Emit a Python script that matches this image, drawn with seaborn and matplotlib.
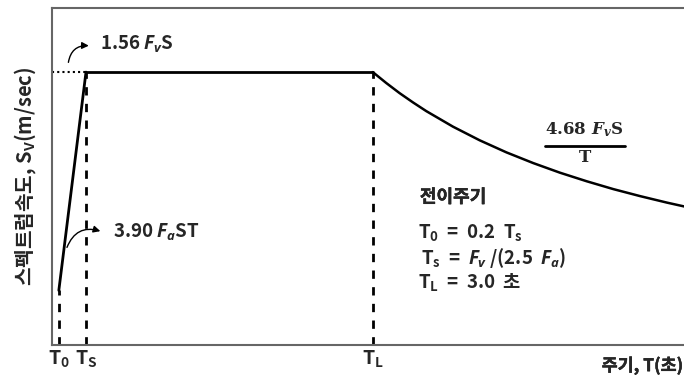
import numpy as np
import matplotlib
matplotlib.use("Agg")
import matplotlib.pyplot as plt
import matplotlib.patheffects as pe
import seaborn as sns

# 설계응답스펙트럼 (FvS = 1 기준, 단위 없음)
T0 = 0.064   # 0.2 Ts
Ts = 0.318
TL = 3.0
plateau = 1.56

# 가속도 구간 (직선), 일정 구간, 감소 구간 값
T_rise = [T0, Ts]
Sv_rise = [0.312, 1.56]
T_flat = [Ts, TL]
Sv_flat = [1.56, 1.56]
T_decay = [3.0, 3.125, 3.25, 3.375, 3.5, 3.75, 4.0, 4.25, 4.5, 4.75, 5.0, 5.25, 5.5, 5.75, 6.0]
Sv_decay = [1.56, 1.498, 1.44, 1.387, 1.337, 1.248, 1.17, 1.101, 1.04, 0.985, 0.936, 0.891, 0.851, 0.814, 0.78]

tick_pos = [T0, Ts, TL]
tick_lab = [r"$\mathrm{T_0}$", r"$\mathrm{T_S}$", r"$\mathrm{T_L}$"]

sns.set_style("white")
plt.rcParams['font.family'] = ['Noto Sans CJK KR', 'DejaVu Sans']
plt.rcParams['font.weight'] = 'bold'
plt.rcParams['mathtext.fontset'] = 'custom'
plt.rcParams['mathtext.rm'] = 'Noto Sans CJK KR:bold'
plt.rcParams['mathtext.bf'] = 'Noto Sans CJK KR:bold'
plt.rcParams['mathtext.it'] = 'Open Sans:italic:bold'

# 한글을 조금 더 굵게
thick = [pe.withStroke(linewidth=0.3, foreground='black')]

fig = plt.figure(figsize=(6.84, 3.79), dpi=100)
ax = fig.add_axes([0.076, 0.0897, 0.924, 0.889])

sns.lineplot(x=T_rise, y=Sv_rise, ax=ax, color='black', lw=2)
sns.lineplot(x=T_flat, y=Sv_flat, ax=ax, color='black', lw=2)
sns.lineplot(x=T_decay, y=Sv_decay, ax=ax, color='black', lw=1.8)

# 점선 / 파선
ax.plot([0, Ts], [plateau, plateau], color='black', ls=(0, (1, 1.5)), lw=1.5)
ax.vlines([T0], 0, Sv_rise[0], colors='black', linestyles=(0, (3, 3)), lw=2)
ax.vlines([Ts, TL], 0, plateau, colors='black', linestyles=(0, (3, 3)), lw=2)

ax.set_xlim(0, 5.91)
ax.set_ylim(0, 1.926)
ax.set_yticks([])
ax.set_xticks(tick_pos)
ax.set_xticklabels(tick_lab, fontsize=14)
ax.tick_params(axis='x', length=0, pad=3)

for s in ['left', 'bottom', 'top']:
    ax.spines[s].set_color('#666666')
    ax.spines[s].set_linewidth(1.5)
ax.spines['right'].set_visible(False)

ax.set_ylabel(r"스펙트럼속도, $\mathrm{S_V}$(m/sec)", fontsize=14.5, fontweight='bold', labelpad=9)
fig.text(0.999, 0.035, "주기, T(초)", ha='right', va='center', fontsize=12.5,
         fontweight='bold', path_effects=thick)

# 주석
ax.annotate('', xy=(0.37, 1.71), xytext=(0.15, 1.6),
            arrowprops=dict(arrowstyle='-|>', color='black', lw=1, mutation_scale=10,
                            connectionstyle='arc3,rad=-0.5'))
ax.text(0.449, 1.72, r"1.56 $F_v\mathrm{S}$", fontsize=13.5, va='center', fontweight='bold')

ax.annotate('', xy=(0.477, 0.646), xytext=(0.131, 0.543),
            arrowprops=dict(arrowstyle='-|>', color='black', lw=1, mutation_scale=10,
                            connectionstyle='arc3,rad=-0.5'))
ax.text(0.57, 0.646, r"3.90 $F_a\mathrm{ST}$", fontsize=13.5, va='center', fontweight='bold')

ax.text(4.98, 1.229, r"4.68 $F_v$S", fontsize=12, ha='center', va='center',
        family='DejaVu Serif', fontweight='bold', math_fontfamily='dejavuserif')
ax.plot([4.607, 5.355], [1.137, 1.137], color='black', lw=2)
ax.text(4.98, 1.069, "T", fontsize=12, ha='center', va='center',
        family='DejaVu Serif', fontweight='bold')

ax.text(3.44, 0.846, "전이주기", fontsize=13, va='center', fontweight='bold', path_effects=thick)
ax.text(3.42, 0.64, r"$\mathrm{T_0}$  =  0.2  $\mathrm{T_s}$", fontsize=13.5, va='center')
ax.text(3.45, 0.497, r"$\mathrm{T_s}$  =  $F_v$ /(2.5  $F_a$)", fontsize=13.5, va='center')
ax.text(3.42, 0.354, r"$\mathrm{T_L}$  =  3.0  초", fontsize=13.5, va='center', fontweight='bold')

fig.savefig("out.png", dpi=100)
